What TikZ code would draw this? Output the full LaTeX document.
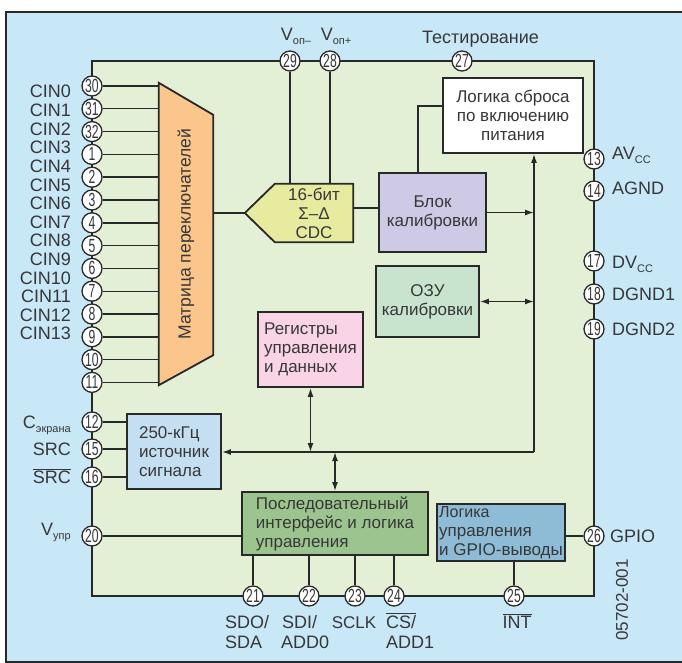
\documentclass[tikz,border=0pt]{standalone}
\usepackage{fontspec}
\setmainfont{Liberation Sans}
\usepackage{graphicx}
\usetikzlibrary{arrows.meta,calc}
\definecolor{bgblue}{RGB}{200,232,248}
\definecolor{chipgreen}{RGB}{228,240,214}
\definecolor{matorange}{RGB}{250,198,140}
\definecolor{cdcyellow}{RGB}{230,235,160}
\definecolor{blklav}{RGB}{206,202,230}
\definecolor{ramgreen}{RGB}{200,228,206}
\definecolor{regpink}{RGB}{248,212,230}
\definecolor{srcblue}{RGB}{196,222,242}
\definecolor{sergreen}{RGB}{156,196,142}
\definecolor{gpioblue}{RGB}{142,188,214}
\definecolor{ink}{RGB}{40,40,40}
\definecolor{txt}{RGB}{55,55,55}
\newcommand\fntlbl{\fontsize{18}{20}\selectfont}
\newcommand\fntbox{\fontsize{17}{19}\selectfont}
\newcommand\fntpin{\fontsize{19}{19}\selectfont}
\newcommand\fntmat{\fontsize{17.5}{17.5}\selectfont}
\newcommand\pinnum[1]{\scalebox{0.64}[1]{#1}}
\newcommand\subt[1]{\raisebox{-4pt}{\fontsize{11}{11}\selectfont #1}}
\begin{document}
\begin{tikzpicture}[x=1pt,y=-1pt,
  ln/.style={draw=ink, line width=1.4pt},
  arr/.style={ln, -{Latex[length=9pt,width=6pt]}},
  darr/.style={ln, {Latex[length=9pt,width=6pt]}-{Latex[length=9pt,width=6pt]}},
  blockbox/.style={draw=ink, line width=1.8pt, inner sep=2pt, font=\fntbox, text=txt},
  pinc/.style={circle, draw=ink, fill=white, line width=1.3pt, minimum size=20pt, inner sep=0pt, font=\fntpin, text=txt},
  lbl/.style={font=\fntlbl, text=txt, inner sep=0pt}]
\useasboundingbox (0,0) rectangle (682,663);
% background frame
\fill[white] (0,0) rectangle (682,663);
\fill[bgblue] (6,12) rectangle (682,662);
\draw[ink, line width=1.3pt] (682,12) -- (6,12) -- (6,662) -- (682,662);
% chip
\node[draw=ink, fill=chipgreen, line width=2.4pt, minimum width=502pt, minimum height=535pt, inner sep=0pt] (chip) at (343,328.5) {};
% matrix
\node[inner sep=0pt, minimum width=54pt, minimum height=302pt] (mat) at (186,234) {};
\draw[blockbox, fill=matorange] (mat.north west) -- ([yshift=-32pt]mat.north east) -- ([yshift=30pt]mat.south east) -- (mat.south west) -- cycle;
\node[rotate=90, font=\fntmat, text=txt] (mattxt) at (mat.center) {Матрица переключателей};
% CDC
\node[inner sep=0pt, minimum width=78pt, minimum height=58pt] (cdc) at (314,213) {};
\coordinate (cdcin) at ([xshift=-30pt]cdc.west);
\draw[blockbox, fill=cdcyellow] (cdc.north east) -- (cdc.south east) -- (cdc.south west) -- (cdcin) -- (cdc.north west) -- cycle;
\node[align=center, font=\fntbox, text=txt, inner sep=0pt] (cdctxt) at (cdc.center) {\fontsize{17}{17}\selectfont 16-бит\\Σ–Δ\\CDC};
% blocks
\node[blockbox, fill=white, minimum width=140pt, minimum height=75pt, align=center] (reset) at (513,115.5) {Логика сброса\\по включению\\питания};
\node[blockbox, fill=blklav, minimum width=107pt, minimum height=79pt, align=center] (blk) at (432.5,212.5) {\fontsize{17}{21}\selectfont Блок\\калибровки};
\node[blockbox, fill=ramgreen, minimum width=103pt, minimum height=71pt, align=center] (ram) at (427.5,301.5) {\fontsize{17}{20}\selectfont ОЗУ\\калибровки};
\node[blockbox, fill=regpink, minimum width=105pt, minimum height=75pt, align=left] (reg) at (310.5,349.5) {Регистры\\управления\\и данных};
\node[blockbox, fill=srcblue, minimum width=94pt, minimum height=75pt, align=left] (src) at (174,451.5) {250-кГц\\источник\\сигнала};
\node[blockbox, fill=sergreen, minimum width=186pt, minimum height=63pt, align=left] (ser) at (335,523.5) {\fontsize{17}{17}\selectfont Последовательный\\интерфейс и логика\\управления};
\node[blockbox, fill=gpioblue, minimum width=128pt, minimum height=57pt, align=left] (gpio) at (501,532.5) {\fontsize{16}{17.5}\selectfont Логика\\управления\\и GPIO-выводы};
% pins
\foreach \n [count=\i from 0] in {30,31,32,1,2,3,4,5,6,7,8,9,10,11} {
  \node[pinc] (p\n) at (92,86+\i*22.8) {\pinnum{\n}};
}
\foreach \n/\x/\y in {12/92/422, 15/92/449, 16/92/477, 20/92/536,
  29/290/61, 28/330/61, 27/462/61,
  13/594/159, 14/594/191, 17/594/261, 18/594/294, 19/594/329, 26/594/536,
  21/253/596, 22/309/596, 23/355/596, 24/394/596, 25/514/596} {
  \node[pinc] (p\n) at (\x,\y) {\pinnum{\n}};
}
% connectors: inputs to matrix
\foreach \n in {30,31,32,1,2,3,4,5,6,7,8,9,10,11} {
  \draw[ln] (p\n) -- (p\n -| mat.west);
}
\draw[ln] (cdcin) -- (cdcin -| mat.east);
\draw[ln] (p29) -- (p29 |- cdc.north);
\draw[ln] (p28) -- (p28 |- cdc.north);
\draw[ln] ([yshift=5pt]cdc.east) -- ([yshift=5pt]cdc.east -| blk.west);
\draw[ln] ([xshift=-14.5pt]blk.north) |- ([yshift=9.5pt]reset.west);
\coordinate (bus) at (534,452);
\coordinate (j2) at (335,452);
\draw[arr] (bus) -- (bus |- reset.south);
\draw[arr] (blk.east) -- (blk.east -| bus);
\draw[darr] (ram.east) -- (ram.east -| bus);
\draw[arr] (bus) -- (bus -| src.east);
\draw[darr] (reg.south) -- (reg.south |- bus);
\draw[darr] (j2) -- (j2 |- ser.north);
\draw[ln] (p12) -- (p12 -| src.west);
\draw[ln] (p15) -- (p15 -| src.west);
\draw[ln] (p16) -- (p16 -| src.west);
\draw[ln] (p20) -- (p20 -| ser.west);
\foreach \n in {21,22,23,24} { \draw[ln] (p\n) -- (p\n |- ser.south); }
\draw[ln] (p25) -- (p25 |- gpio.south);
\draw[ln] (p26) -- (p26 -| gpio.east);
% labels left
\foreach \i in {0,...,13} {
  \node[lbl, anchor=base east] (cin\i) at (71,98+\i*18.6) {CIN\i};
}
\node[lbl, anchor=base east] (lscr) at (71,428) {C\subt{экрана}};
\node[lbl, anchor=base east] (lsrc) at (71,455) {SRC};
\node[lbl, anchor=base east] (lsrcb) at (71,483) {$\overline{\mbox{SRC}}$};
\node[lbl, anchor=base east] (lvupr) at (71,535) {V\subt{упр}};
% labels top
\node[lbl, anchor=base] (lvm) at (296,41) {V\subt{оп–}};
\node[lbl, anchor=base] (lvp) at (336,41) {V\subt{оп+}};
\node[lbl, anchor=base west] (ltest) at (422,44) {Тестирование};
% labels right
\node[lbl, anchor=base west] (lav) at (612,160) {AV\subt{CC}};
\node[lbl, anchor=base west] (lag) at (612,194) {AGND};
\node[lbl, anchor=base west] (ldv) at (612,268) {DV\subt{CC}};
\node[lbl, anchor=base west] (ldg1) at (612,300) {DGND1};
\node[lbl, anchor=base west] (ldg2) at (612,335) {DGND2};
\node[lbl, anchor=base west] (lgpio) at (610,542) {GPIO};
\node[lbl, rotate=90, font=\fontsize{17}{17}\selectfont] (code) at (622,600) {05702-001};
% labels bottom
\node[lbl, anchor=base west] (lb1a) at (225,628) {SDO/};
\node[lbl, anchor=base west] (lb1b) at (225,648) {SDA};
\node[lbl, anchor=base west] (lb2a) at (282,628) {SDI/};
\node[lbl, anchor=base west] (lb2b) at (281,648) {ADD0};
\node[lbl, anchor=base, font=\fontsize{17}{17}\selectfont] (lb3a) at (354,628) {SCLK};
\node[lbl, anchor=base west] (lb4a) at (386,628) {$\overline{\mbox{CS/}}$};
\node[lbl, anchor=base west] (lb4b) at (386,648) {ADD1};
\node[lbl, anchor=base] (lb5a) at (517,628) {$\overline{\mbox{INT}}$};
\end{tikzpicture}
\end{document}
